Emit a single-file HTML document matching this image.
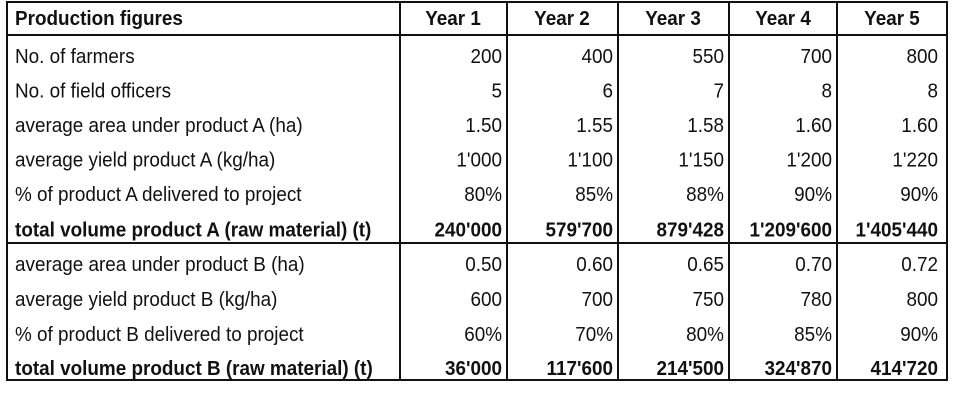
<!DOCTYPE html>
<html><head><meta charset="utf-8"><style>
html,body{margin:0;padding:0;background:#fff;width:960px;height:419px;overflow:hidden}
svg{display:block}
text{font-family:"Liberation Sans",Arial,sans-serif;font-size:20px;fill:#111}
.b{font-weight:bold}
</style></head><body>
<svg width="960" height="419" viewBox="0 0 960 419">
<g stroke="#111" stroke-width="2" fill="none">
<rect x="7" y="2" width="940" height="378"/>
<line x1="7" y1="35" x2="947" y2="35"/>
<line x1="7" y1="243" x2="947" y2="243"/>
<line x1="400" y1="2" x2="400" y2="380"/>
<line x1="507" y1="2" x2="507" y2="380"/>
<line x1="618" y1="2" x2="618" y2="380"/>
<line x1="729" y1="2" x2="729" y2="380"/>
<line x1="837" y1="2" x2="837" y2="380"/>
</g>
<g transform="scale(0.945 1)">
<g class="b">
<text x="15.9" y="25" class="b">Production figures</text>
<text x="479.4" y="25" text-anchor="middle" class="b">Year 1</text>
<text x="594.7" y="25" text-anchor="middle" class="b">Year 2</text>
<text x="712.2" y="25" text-anchor="middle" class="b">Year 3</text>
<text x="828.6" y="25" text-anchor="middle" class="b">Year 4</text>
<text x="943.9" y="25" text-anchor="middle" class="b">Year 5</text>
</g>
<g>
<text x="15.9" y="63">No. of farmers</text>
<text x="15.9" y="97.5">No. of field officers</text>
<text x="15.9" y="132">average area under product A (ha)</text>
<text x="15.9" y="166.5">average yield product A (kg/ha)</text>
<text x="15.9" y="201">% of product A delivered to project</text>
<text x="15.9" y="236.5" class="b">total volume product A (raw material) (t)</text>
<text x="15.9" y="271">average area under product B (ha)</text>
<text x="15.9" y="306">average yield product B (kg/ha)</text>
<text x="15.9" y="341">% of product B delivered to project</text>
<text x="15.9" y="375" class="b">total volume product B (raw material) (t)</text>
</g>
<g text-anchor="end">
<text x="531.2" y="63">200</text><text x="648.7" y="63">400</text><text x="766.1" y="63">550</text><text x="880.4" y="63">700</text><text x="992.6" y="63">800</text>
<text x="531.2" y="97.5">5</text><text x="648.7" y="97.5">6</text><text x="766.1" y="97.5">7</text><text x="880.4" y="97.5">8</text><text x="992.6" y="97.5">8</text>
<text x="531.2" y="132">1.50</text><text x="648.7" y="132">1.55</text><text x="766.1" y="132">1.58</text><text x="880.4" y="132">1.60</text><text x="992.6" y="132">1.60</text>
<text x="531.2" y="166.5">1'000</text><text x="648.7" y="166.5">1'100</text><text x="766.1" y="166.5">1'150</text><text x="880.4" y="166.5">1'200</text><text x="992.6" y="166.5">1'220</text>
<text x="531.2" y="201">80%</text><text x="648.7" y="201">85%</text><text x="766.1" y="201">88%</text><text x="880.4" y="201">90%</text><text x="992.6" y="201">90%</text>
<text x="531.2" y="236.5" class="b">240'000</text><text x="648.7" y="236.5" class="b">579'700</text><text x="766.1" y="236.5" class="b">879'428</text><text x="880.4" y="236.5" class="b">1'209'600</text><text x="992.6" y="236.5" class="b">1'405'440</text>
<text x="531.2" y="271">0.50</text><text x="648.7" y="271">0.60</text><text x="766.1" y="271">0.65</text><text x="880.4" y="271">0.70</text><text x="992.6" y="271">0.72</text>
<text x="531.2" y="306">600</text><text x="648.7" y="306">700</text><text x="766.1" y="306">750</text><text x="880.4" y="306">780</text><text x="992.6" y="306">800</text>
<text x="531.2" y="341">60%</text><text x="648.7" y="341">70%</text><text x="766.1" y="341">80%</text><text x="880.4" y="341">85%</text><text x="992.6" y="341">90%</text>
<text x="531.2" y="375" class="b">36'000</text><text x="648.7" y="375" class="b">117'600</text><text x="766.1" y="375" class="b">214'500</text><text x="880.4" y="375" class="b">324'870</text><text x="992.6" y="375" class="b">414'720</text>
</g>
</g>
</svg>
</body></html>
